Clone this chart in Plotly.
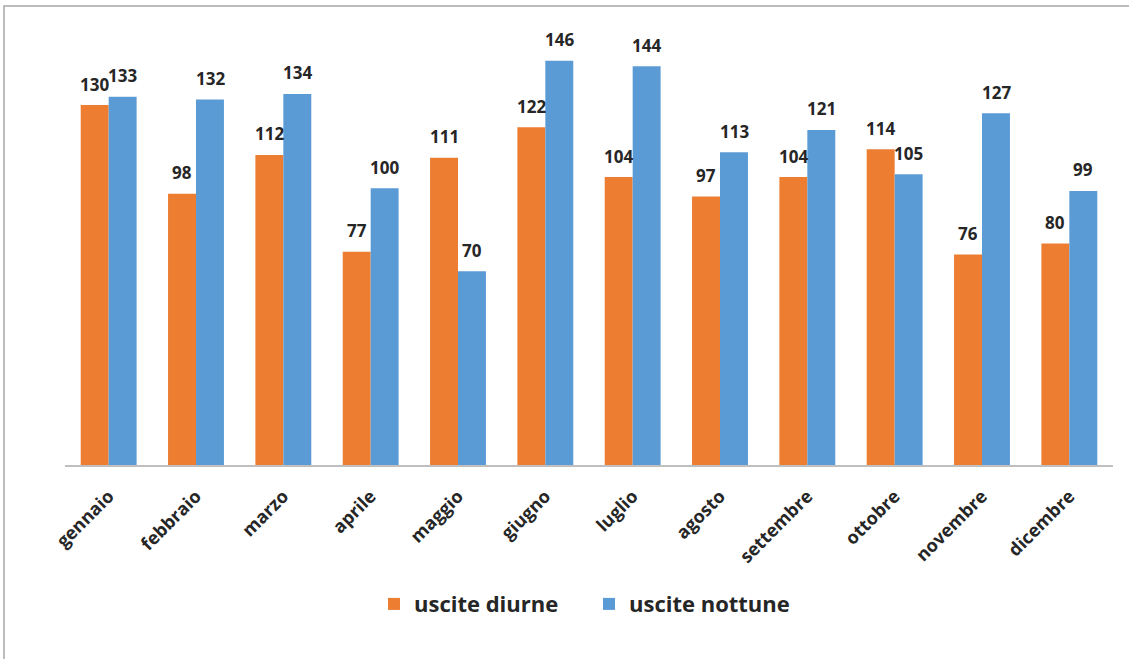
import plotly.graph_objects as go

months = ["gennaio", "febbraio", "marzo", "aprile", "maggio", "giugno",
          "luglio", "agosto", "settembre", "ottobre", "novembre", "dicembre"]
diurne = [130, 98, 112, 77, 111, 122, 104, 97, 104, 114, 76, 80]
notturne = [133, 132, 134, 100, 70, 146, 144, 113, 121, 105, 127, 99]

FONT = "Open Sans"
TXT = "#262626"
ORANGE = "#ED7D31"
BLUE = "#5B9BD5"

fig = go.Figure()
fig.add_trace(go.Bar(x=months, y=diurne, name="uscite diurne",
                     marker=dict(color=ORANGE, line=dict(width=0))))
fig.add_trace(go.Bar(x=months, y=notturne, name="uscite nottune",
                     marker=dict(color=BLUE, line=dict(width=0))))

# value labels above each bar (half a bar-slot left/right of the category)
for vals, shift in ((diurne, -14), (notturne, 14)):
    for m, v in zip(months, vals):
        fig.add_annotation(x=m, y=v, text=str(v), showarrow=False,
                           xshift=shift, yshift=21, yanchor="middle",
                           font=dict(family=FONT, size=17, color=TXT, weight="bold"))

fig.update_layout(
    width=1129, height=659,
    margin=dict(l=65, r=16, t=22, b=194),
    paper_bgcolor="white", plot_bgcolor="white",
    barmode="group", bargap=0.36, bargroupgap=0,
    font=dict(family=FONT, color=TXT),
    showlegend=True,
    legend=dict(
        orientation="h", x=0.5, xanchor="center", y=-0.314, yanchor="middle",
        font=dict(family=FONT, size=22, color=TXT, weight="bold"),
        itemsizing="constant", traceorder="normal", itemwidth=30,
        entrywidth=170,
    ),
    xaxis=dict(
        tickangle=-45, showgrid=False, ticks="", ticklabelstandoff=12,
        showline=True, linecolor="#BFBFBF", linewidth=1.5,
        tickfont=dict(family=FONT, size=18, color=TXT, weight="bold"),
    ),
    yaxis=dict(range=[0, 160], visible=False, showgrid=False, zeroline=False),
)

# outer frame of the chart
fig.add_shape(type="rect", xref="paper", yref="paper",
              x0=-0.0582, x1=1.0162, y0=-0.44, y1=1.036,
              line=dict(color="#A6A6A6", width=1.5), fillcolor="rgba(0,0,0,0)",
              layer="above")

fig.write_html("out.html")
